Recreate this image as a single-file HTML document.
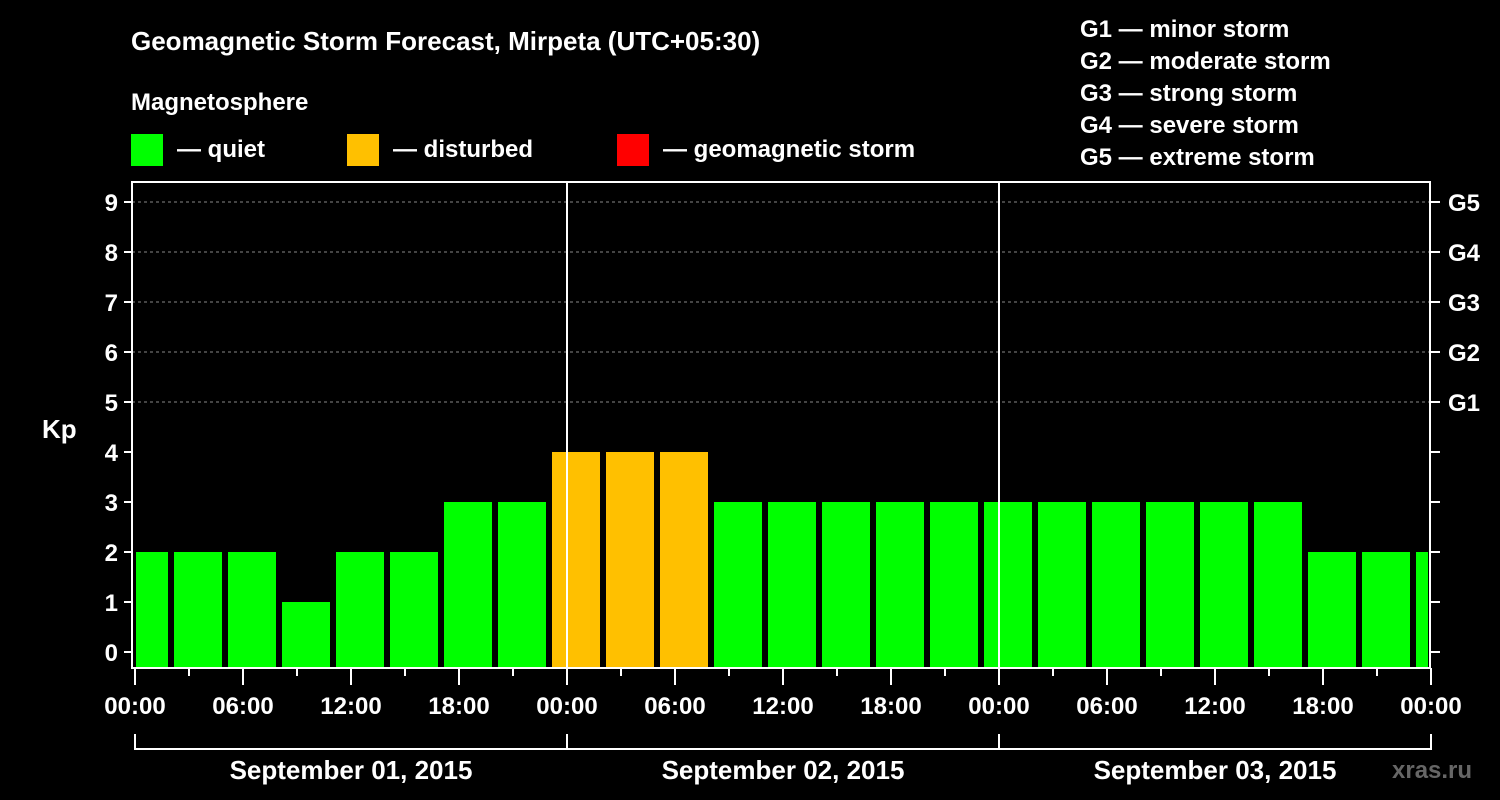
<!DOCTYPE html>
<html><head><meta charset="utf-8"><style>
html,body{margin:0;padding:0;background:#000;}
svg{display:block;font-family:"Liberation Sans",Arial,sans-serif;font-weight:bold;}
</style></head><body>
<svg id="chart" width="1500" height="800" viewBox="0 0 1500 800">
<rect width="1500" height="800" fill="#000"/>
<text x="131" y="50" fill="#fff" font-size="26">Geomagnetic Storm Forecast, Mirpeta (UTC+05:30)</text>
<text x="131" y="110" fill="#fff" font-size="24">Magnetosphere</text>
<g><rect x="131" y="134" width="32" height="32" fill="#00ff00"/><text x="177" y="157" fill="#fff" font-size="24">— quiet</text></g>
<g><rect x="347" y="134" width="32" height="32" fill="#ffc000"/><text x="393" y="157" fill="#fff" font-size="24">— disturbed</text></g>
<g><rect x="617" y="134" width="32" height="32" fill="#ff0000"/><text x="663" y="157" fill="#fff" font-size="24">— geomagnetic storm</text></g>
<g fill="#fff" font-size="24">
<text x="1080" y="37">G1 — minor storm</text>
<text x="1080" y="69">G2 — moderate storm</text>
<text x="1080" y="101">G3 — strong storm</text>
<text x="1080" y="133">G4 — severe storm</text>
<text x="1080" y="165">G5 — extreme storm</text>
</g>
<text x="42" y="438" fill="#fff" font-size="26">Kp</text>
<text x="1392" y="778" fill="#666" font-size="24">xras.ru</text>
<g id="grid"></g><g id="bars"></g><g id="axes"></g>
</svg>
<script>
const kpValues=[2,2,2,1,2,2,3,3,4,4,4,3,3,3,3,3,3,3,3,3,3,3,2,2,2];
const yTicks=[0,1,2,3,4,5,6,7,8,9];
const gLabels=["G1","G2","G3","G4","G5"];
const hourLabels=["00:00","06:00","12:00","18:00"];
const dayLabels=["September 01, 2015","September 02, 2015","September 03, 2015"];
const NS="http://www.w3.org/2000/svg";
const L=132,R=1430,T=182,B=668;
const y=v=>652-50*v;
const x=h=>135+18*h;   // hours from start
function mk(tag,attrs,parent,txt){const e=document.createElementNS(NS,tag);for(const k in attrs)e.setAttribute(k,attrs[k]);if(txt!==undefined)e.textContent=txt;parent.appendChild(e);return e;}
const grid=document.getElementById('grid'),bars=document.getElementById('bars'),axes=document.getElementById('axes');
[5,6,7,8,9].forEach(v=>{const l=mk('line',{x1:L,x2:R,y1:y(v),y2:y(v),stroke:'#888','stroke-dasharray':'3,3','stroke-width':1},grid);

});
kpValues.forEach((v,i)=>{
 let x0=x(i*3-5/6),x1=x0+48;
 x0=Math.max(x0,L+4);x1=Math.min(x1,R-2);
 const c=v>=5?'#ff0000':(v>=4?'#ffc000':'#00ff00');
 const r=mk('rect',{x:x0,y:y(v),width:x1-x0,height:B-y(v),fill:c},bars);
 
 
});
[1,2].forEach(d=>{const l=mk('line',{x1:x(24*d),x2:x(24*d),y1:T,y2:B,stroke:'#fff','stroke-width':2},axes);

});
const fr=mk('rect',{x:L,y:T,width:R-L,height:B-T,fill:'none',stroke:'#fff','stroke-width':2},axes);


yTicks.forEach(v=>{
 mk('line',{x1:L-8,x2:L,y1:y(v),y2:y(v),stroke:'#fff','stroke-width':2},axes);
 mk('line',{x1:R,x2:R+10,y1:y(v),y2:y(v),stroke:'#fff','stroke-width':2},axes);
 const t=mk('text',{x:L-14,y:y(v)+9,fill:'#fff','font-size':24,'text-anchor':'end'},axes,String(v));
 
 
});
gLabels.forEach((g,i)=>{const t=mk('text',{x:1448,y:y(5+i)+9,fill:'#fff','font-size':24},axes,g);

});
for(let h=0;h<=72;h+=3){
 const major=h%6===0;
 mk('line',{x1:x(h),x2:x(h),y1:B,y2:B+(major?17:8),stroke:'#fff','stroke-width':2},axes);
 if(major){const t=mk('text',{x:x(h),y:714,fill:'#fff','font-size':24,'text-anchor':'middle'},axes,hourLabels[(h/6)%4]);
 
 }
}
mk('line',{x1:x(0),x2:x(72),y1:749,y2:749,stroke:'#fff','stroke-width':2},axes);
[0,24,48,72].forEach(h=>mk('line',{x1:x(h),x2:x(h),y1:734,y2:750,stroke:'#fff','stroke-width':2},axes));
dayLabels.forEach((d,i)=>{const t=mk('text',{x:x(24*i+12),y:779,fill:'#fff','font-size':26,'text-anchor':'middle'},axes,d);

});
</script>
</body></html>
